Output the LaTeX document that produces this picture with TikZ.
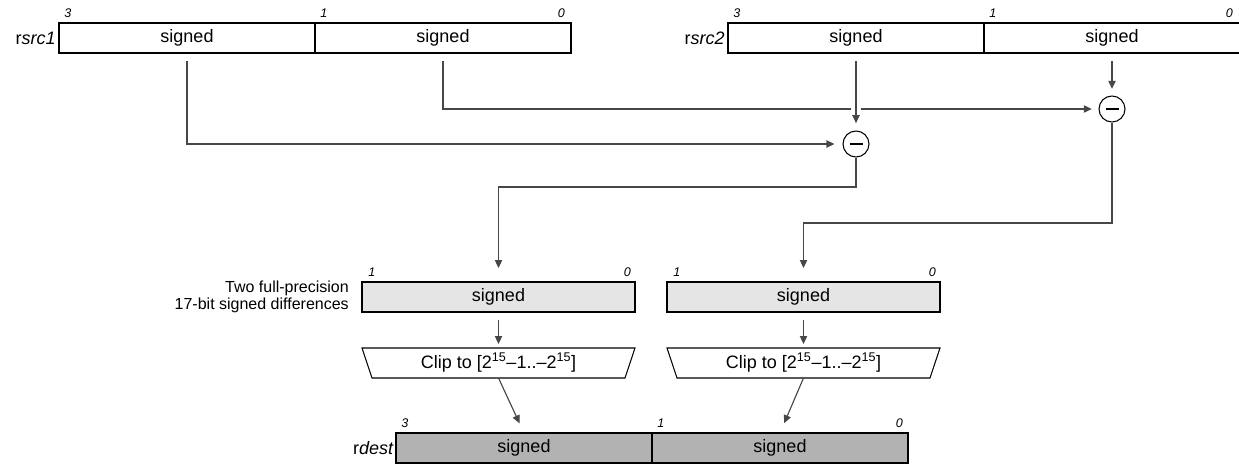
\documentclass[tikz,border=0pt]{standalone}
\usepackage{fontspec}
\setmainfont{Liberation Sans}
\usetikzlibrary{arrows.meta,calc}
\definecolor{midgray}{gray}{0.9}
\definecolor{dstgray}{gray}{0.7}
\definecolor{linegray}{gray}{0.28}
\begin{document}
\begin{tikzpicture}[x=0.75pt,y=-0.75pt,
  font=\fontsize{13.5}{16}\selectfont,
  cell/.style={draw=black,line width=1pt,minimum width=192pt,minimum height=22.5pt,inner sep=0pt,outer sep=0pt},
  mid/.style={cell,minimum width=204.75pt,fill=midgray},
  dst/.style={cell,fill=dstgray},
  bit/.style={font=\fontsize{9.4}{10}\selectfont\itshape,inner sep=0pt,anchor=base west},
  bitr/.style={bit,anchor=base east},
  conn/.style={draw=linegray,line width=0.85pt,-{Triangle[length=6pt,width=5.5pt]}},
  sub/.style={circle,draw=black,line width=0.8pt,minimum size=19.5pt,inner sep=0pt},
  regname/.style={anchor=east,inner sep=0pt},
  clipbox/.style={minimum width=204.75pt,minimum height=22.5pt,inner sep=0pt,outer sep=0pt},
]
\useasboundingbox (0,0) rectangle (1239,464);

% source registers
\node[cell] (s1h) at (187,38) {signed};
\node[cell] (s1l) at (443,38) {signed};
\node[regname] (n1) at (56,38) {r\textit{src1}};
\node[bit] (s1b3) at (64,17) {3};
\node[bit] (s1b1) at (320,17) {1};
\node[bitr] (s1b0) at (565,17) {0};

\node[cell] (s2h) at (856,38) {signed};
\node[cell] (s2l) at (1112,38) {signed};
\node[regname] (n2) at (725,38) {r\textit{src2}};
\node[bit] (s2b3) at (733,17) {3};
\node[bit] (s2b1) at (989,17) {1};
\node[bitr] (s2b0) at (1233,17) {0};

% subtractors
\node[sub] (c1) at (856,144) {};
\node[sub] (c2) at (1112,109) {};
\draw[line width=1pt] ($(c1)+(-6.5,0)$) -- ($(c1)+(6.5,0)$);
\draw[line width=1pt] ($(c2)+(-6.5,0)$) -- ($(c2)+(6.5,0)$);

\coordinate (o1h) at ($(s1h.south)+(0,8)$);
\coordinate (o1l) at ($(s1l.south)+(0,8)$);
\coordinate (o2h) at ($(s2h.south)+(0,8)$);
\coordinate (o2l) at ($(s2l.south)+(0,8)$);

\draw[conn,shorten >=6pt] (o1h) |- (c1);
\draw[conn,shorten >=5pt] (o1l) |- (c2);
\draw[white,line width=7.5pt] (856,106) -- (856,112);
\draw[conn,shorten >=5.5pt] (o2h) -- (c1);
\draw[conn,shorten >=5pt] (o2l) -- (c2);

% intermediate results
\node[mid] (b1) at (498.5,297) {signed};
\node[mid] (b2) at (803.5,297) {signed};
\node[bit] (b1b1) at (368,276) {1};
\node[bitr] (b1b0) at (631,276) {0};
\node[bit] (b2b1) at (673,276) {1};
\node[bitr] (b2b0) at (936,276) {0};
\node[regname,align=right,font=\fontsize{12}{12.75}\selectfont] (lab) at (349,297) {Two full-precision\\17-bit signed differences};

\coordinate (k1) at (856,187);
\coordinate (k2) at (1112,223);
\draw[conn,shorten >=10.5pt] (c1.south) -- (k1) -| (b1.north);
\draw[conn,shorten >=10.5pt] (c2.south) -- (k2) -| (b2.north);

% clip stages
\node[clipbox] (t1) at (498.5,363) {Clip to [2\textsuperscript{15}–1..–2\textsuperscript{15}]};
\node[clipbox] (t2) at (803.5,363) {Clip to [2\textsuperscript{15}–1..–2\textsuperscript{15}]};
\foreach \t in {t1,t2}
  \draw[black,line width=0.8pt] (\t.north west) -- (\t.north east) -- ($(\t.south east)+(-10,0)$) -- ($(\t.south west)+(10,0)$) -- cycle;

\draw[conn,shorten >=3pt] ($(b1.south)+(0,8)$) -- (t1.north);
\draw[conn,shorten >=3pt] ($(b2.south)+(0,8)$) -- (t2.north);

% destination register
\node[dst] (rd1) at (524,448) {signed};
\node[dst] (rd2) at (780,448) {signed};
\node[regname] (n3) at (394,448) {r\textit{dest}};
\node[bit] (db3) at (401,427) {3};
\node[bit] (db1) at (657,427) {1};
\node[bitr] (db0) at (903,427) {0};

\draw[conn,shorten >=8pt] (t1.south) -- (rd1.north);
\draw[conn,shorten >=8pt] (t2.south) -- (rd2.north);
\end{tikzpicture}
\end{document}
